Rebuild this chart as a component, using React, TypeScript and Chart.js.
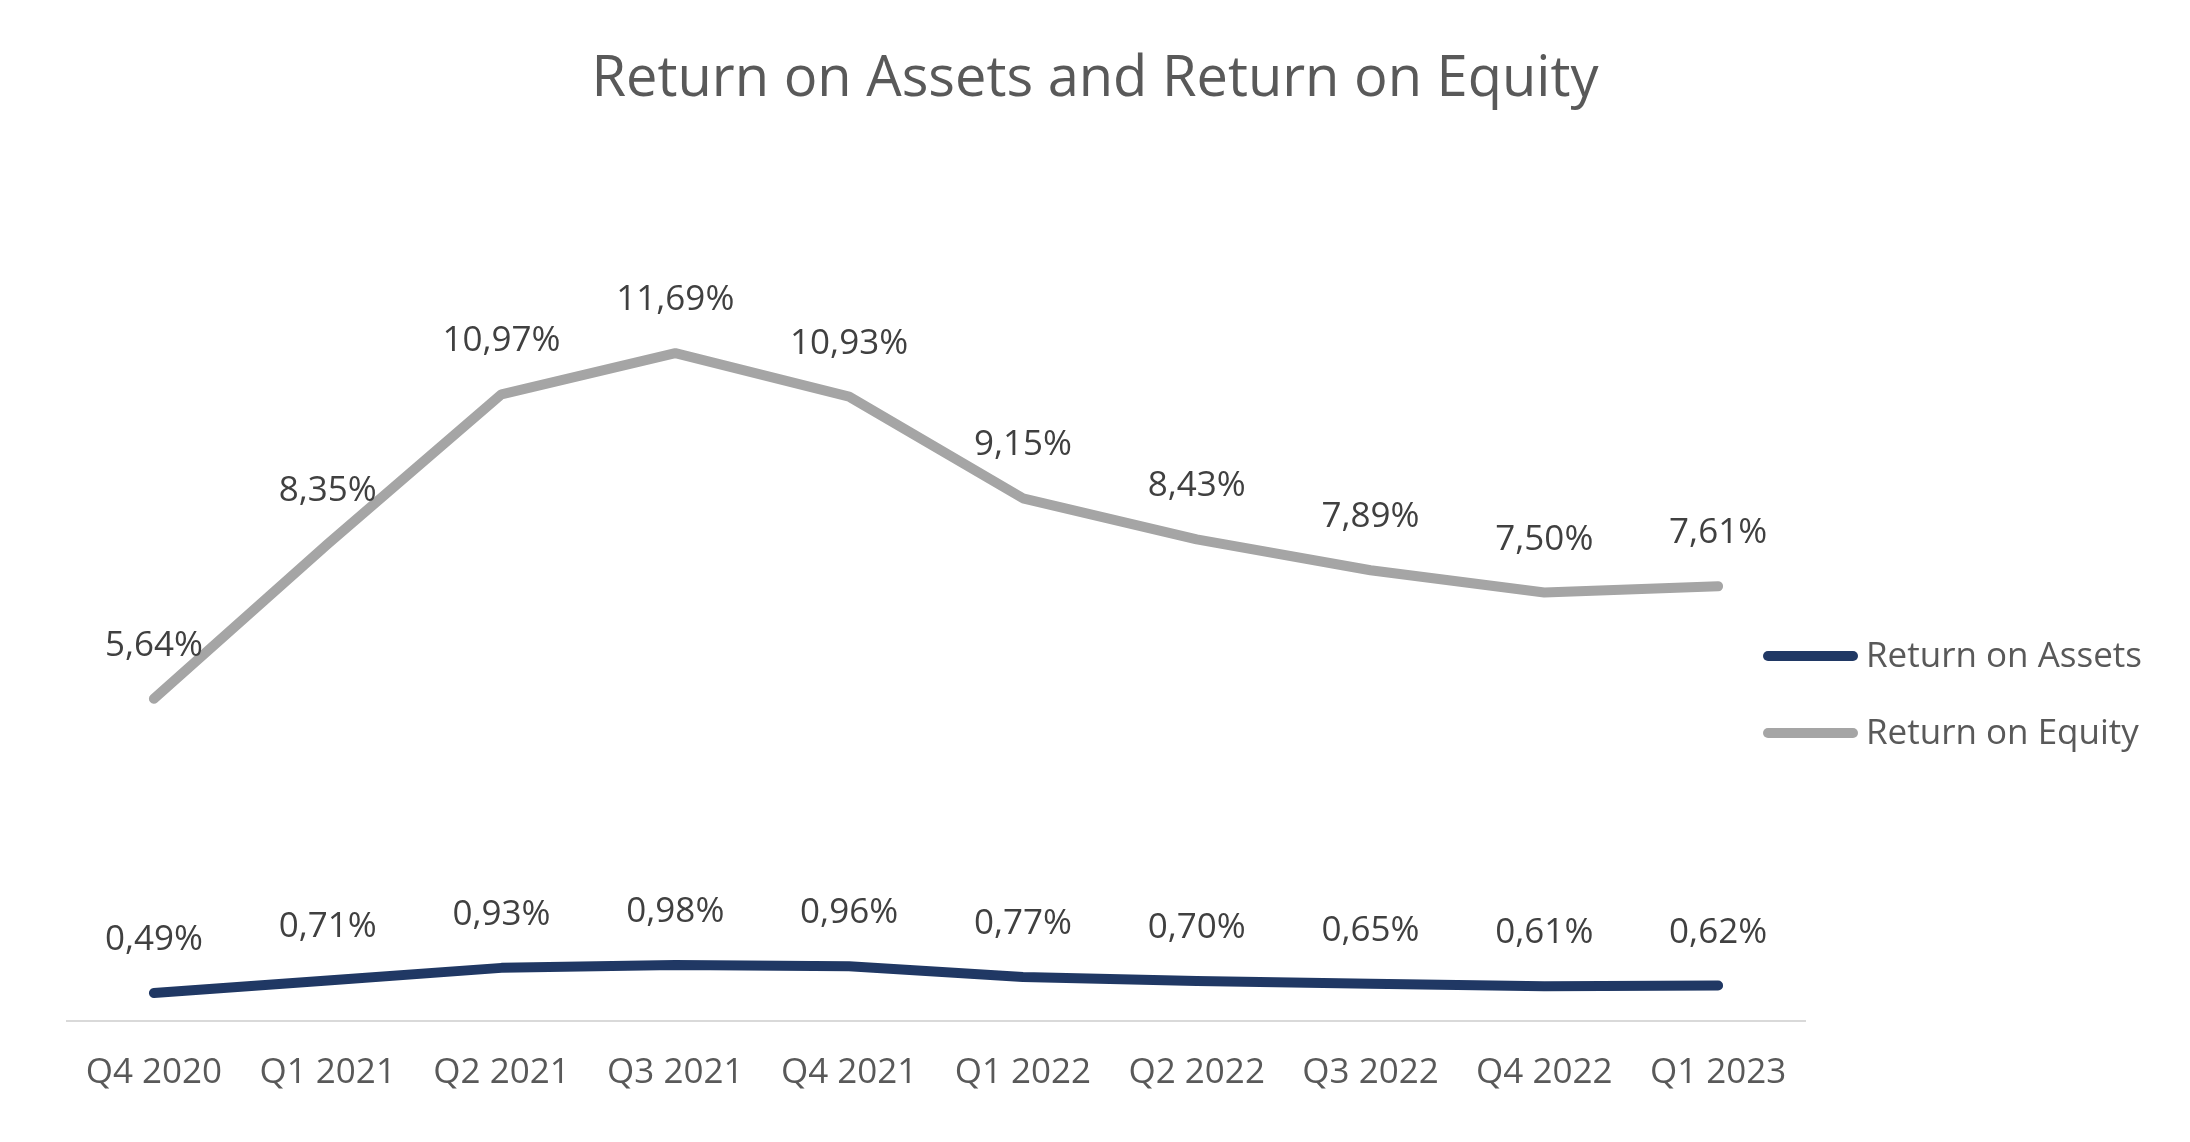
import React, { useEffect, useRef } from "react";
import { Chart, registerables } from "chart.js";

Chart.register(...registerables);

const categories = ["Q4 2020", "Q1 2021", "Q2 2021", "Q3 2021", "Q4 2021", "Q1 2022", "Q2 2022", "Q3 2022", "Q4 2022", "Q1 2023"];
const returnOnAssets = [0.49, 0.71, 0.93, 0.98, 0.96, 0.77, 0.70, 0.65, 0.61, 0.62];
const returnOnEquity = [5.64, 8.35, 10.97, 11.69, 10.93, 9.15, 8.43, 7.89, 7.50, 7.61];
const seriesNames = ["Return on Assets", "Return on Equity"];
const titleText = "Return on Assets and Return on Equity";

const FONT = "'Open Sans', 'DejaVu Sans', sans-serif";
const fmt = (v: number) => v.toFixed(2).replace(".", ",") + "%";

const labelPlugin = {
  id: "pointLabels",
  afterDatasetsDraw(chart: any) {
    const ctx = chart.ctx;
    ctx.save();
    ctx.font = `35px ${FONT}`;
    ctx.fillStyle = "#404040";
    ctx.textAlign = "center";
    ctx.textBaseline = "alphabetic";
    chart.data.datasets.forEach((ds: any, i: number) => {
      const meta = chart.getDatasetMeta(i);
      meta.data.forEach((pt: any, j: number) => {
        ctx.fillText(fmt(ds.data[j]), pt.x, pt.y - 43);
      });
    });
    ctx.restore();
  },
};

const legendPlugin = {
  id: "customLegend",
  afterDraw(chart: any) {
    const ctx = chart.ctx;
    ctx.save();
    const x0 = 1763;
    const x1 = 1858;
    const ys = [656, 733];
    chart.data.datasets.forEach((ds: any, i: number) => {
      ctx.strokeStyle = ds.borderColor;
      ctx.lineWidth = 10;
      ctx.lineCap = "round";
      ctx.beginPath();
      ctx.moveTo(x0 + 5, ys[i]);
      ctx.lineTo(x1 - 5, ys[i]);
      ctx.stroke();
      ctx.font = `35px ${FONT}`;
      ctx.fillStyle = "#595959";
      ctx.textAlign = "left";
      ctx.textBaseline = "middle";
      ctx.fillText(ds.label, x1 + 8, ys[i] + 1);
    });
    ctx.restore();
  },
};

export default function App() {
  const ref = useRef<HTMLCanvasElement | null>(null);
  useEffect(() => {
    if (!ref.current) return;
    const chart = new Chart(ref.current, {
      type: "line",
      data: {
        labels: categories,
        datasets: [
          {
            label: seriesNames[0],
            data: returnOnAssets,
            borderColor: "#203864",
            backgroundColor: "#203864",
            borderWidth: 10,
            borderCapStyle: "round",
            borderJoinStyle: "round",
            pointRadius: 0,
            tension: 0,
          },
          {
            label: seriesNames[1],
            data: returnOnEquity,
            borderColor: "#A5A5A5",
            backgroundColor: "#A5A5A5",
            borderWidth: 10,
            borderCapStyle: "round",
            borderJoinStyle: "round",
            pointRadius: 0,
            tension: 0,
          },
        ],
      },
      options: {
        animation: false,
        responsive: true,
        maintainAspectRatio: false,
        layout: { padding: { left: 0, right: 0, top: 0, bottom: 17 } },
        plugins: {
          legend: { display: false },
          tooltip: { enabled: false },
          title: {
            display: true,
            text: titleText,
            color: "#595959",
            font: { family: FONT, size: 56, weight: "normal" },
            padding: { top: 46, bottom: 108 },
          },
        },
        scales: {
          x: {
            offset: true,
            grid: { display: false, drawTicks: false },
            border: { display: true, color: "#D9D9D9", width: 2 },
            ticks: {
              color: "#595959",
              font: { family: FONT, size: 35 },
              padding: 31,
              maxRotation: 0,
              autoSkip: false,
            },
          },
          y: {
            position: "left",
            min: 0,
            max: 14,
            grid: { display: false, drawTicks: false },
            border: { display: false },
            ticks: { display: false },
            afterFit: (scale: any) => {
              scale.width = 67;
            },
          },
          yRight: {
            position: "right",
            min: 0,
            max: 14,
            grid: { display: false, drawTicks: false },
            border: { display: false },
            ticks: { display: false },
            afterFit: (scale: any) => {
              scale.width = 385;
            },
          },
        },
      },
      plugins: [labelPlugin, legendPlugin],
    } as any);
    return () => chart.destroy();
  }, []);
  return (
    <div style={{ position: "absolute", left: 0, top: 0, width: 2190, height: 1142, background: "#fff" }}>
      <canvas ref={ref} />
    </div>
  );
}
